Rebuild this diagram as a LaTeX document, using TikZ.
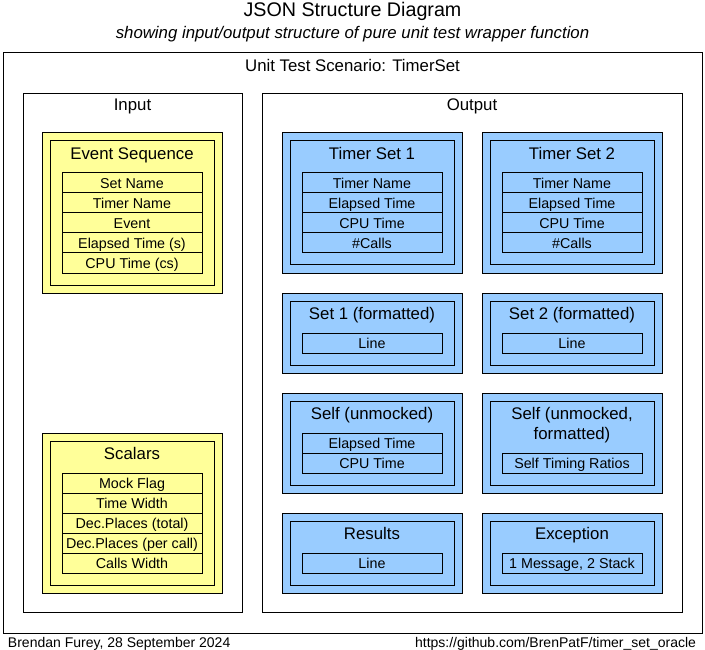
\documentclass[tikz,border=0pt]{standalone}
\usepackage{fontspec}
\setmainfont{Liberation Sans}
\definecolor{yfill}{HTML}{FFFF99}
\definecolor{bfill}{HTML}{99CCFF}
\tikzset{
  box/.style={draw=black, line width=1pt, inner sep=0pt, outer sep=0pt},
  lbl/.style={inner sep=0pt, outer sep=0pt, text height=12pt, text depth=0pt, font=\fontsize{16.8}{20}\selectfont},
  biglbl/.style={inner sep=0pt, outer sep=0pt, text height=12pt, text depth=0pt, font=\fontsize{16.8}{20}\selectfont},
  rowbox/.style={box, minimum width=140pt, minimum height=20pt, text height=10.2pt, text depth=0pt, font=\fontsize{14.3}{17}\selectfont},
  ybox/.style={box, fill=yfill},
  bbox/.style={box, fill=bfill},
  outerbox/.style={minimum width=180pt, minimum height=#1},
  innerbox/.style={box, minimum width=164pt, minimum height=#1},
  foot/.style={inner sep=0pt, outer sep=0pt, text height=10pt, text depth=0pt, font=\fontsize{14}{17}\selectfont},
}
\begin{document}
\begin{tikzpicture}[x=1pt, y=-1pt]
\useasboundingbox (0,0) rectangle (705,650);
% titles
\node[inner sep=0pt, text height=14pt, text depth=0pt, font=\fontsize{19.7}{23}\selectfont] (title) at (352.5,10) {JSON Structure Diagram};
\node[biglbl, font=\fontsize{16.8}{20}\selectfont\itshape] (subtitle) at (352.5,33) {showing input/output structure of pure unit test wrapper function};
% outer frames
\node[box, minimum width=699pt, minimum height=580pt] (scen) at (352.5,343) {};
\node[biglbl] (scenlbl) at (352.5,66) {Unit Test Scenario: TimerSet};
\node[box, minimum width=219pt, minimum height=518pt] (input) at (132.5,353) {};
\node[biglbl] (inputlbl) at (132.5,105) {Input};
\node[box, minimum width=420pt, minimum height=518pt] (output) at (472,353) {};
\node[biglbl] (outputlbl) at (472,105) {Output};
% Event Sequence
\node[ybox, outerbox=160pt] (evo) at (132,213) {};
\node[ybox, innerbox=144pt] (evi) at (132,213) {};
\node[lbl] (evt) at (132,153.5) {Event Sequence};
\node[rowbox] (ev1) at (132,183) {Set Name};
\node[rowbox] (ev2) at (132,203) {Timer Name};
\node[rowbox] (ev3) at (132,223) {Event};
\node[rowbox] (ev4) at (132,243) {Elapsed Time (s)};
\node[rowbox] (ev5) at (132,263) {CPU Time (cs)};
% Scalars
\node[ybox, outerbox=160pt] (sco) at (132,513) {};
\node[ybox, innerbox=144pt] (sci) at (132,513) {};
\node[lbl] (sct) at (132,453.5) {Scalars};
\node[rowbox] (sc1) at (132,483) {Mock Flag};
\node[rowbox] (sc2) at (132,503) {Time Width};
\node[rowbox] (sc3) at (132,523) {Dec.Places (total)};
\node[rowbox] (sc4) at (132,543) {Dec.Places (per call)};
\node[rowbox] (sc5) at (132,563) {Calls Width};
% Timer Set 1
\node[bbox, outerbox=140pt] (t1o) at (372,203) {};
\node[bbox, innerbox=124pt] (t1i) at (372,203) {};
\node[lbl] (t1t) at (372,153.5) {Timer Set 1};
\node[rowbox] (t1a) at (372,183) {Timer Name};
\node[rowbox] (t1b) at (372,203) {Elapsed Time};
\node[rowbox] (t1c) at (372,223) {CPU Time};
\node[rowbox] (t1d) at (372,243) {\#Calls};
% Timer Set 2
\node[bbox, outerbox=140pt] (t2o) at (572,203) {};
\node[bbox, innerbox=124pt] (t2i) at (572,203) {};
\node[lbl] (t2t) at (572,153.5) {Timer Set 2};
\node[rowbox] (t2a) at (572,183) {Timer Name};
\node[rowbox] (t2b) at (572,203) {Elapsed Time};
\node[rowbox] (t2c) at (572,223) {CPU Time};
\node[rowbox] (t2d) at (572,243) {\#Calls};
% Set 1 formatted
\node[bbox, outerbox=80pt] (f1o) at (372,333) {};
\node[bbox, innerbox=64pt] (f1i) at (372,333) {};
\node[lbl] (f1t) at (372,313.5) {Set 1 (formatted)};
\node[rowbox] (f1a) at (372,343) {Line};
% Set 2 formatted
\node[bbox, outerbox=80pt] (f2o) at (572,333) {};
\node[bbox, innerbox=64pt] (f2i) at (572,333) {};
\node[lbl] (f2t) at (572,313.5) {Set 2 (formatted)};
\node[rowbox] (f2a) at (572,343) {Line};
% Self (unmocked)
\node[bbox, outerbox=100pt] (s1o) at (372,443) {};
\node[bbox, innerbox=84pt] (s1i) at (372,443) {};
\node[lbl] (s1t) at (372,413.5) {Self (unmocked)};
\node[rowbox] (s1a) at (372,443) {Elapsed Time};
\node[rowbox] (s1b) at (372,463) {CPU Time};
% Self (unmocked, formatted)
\node[bbox, outerbox=100pt] (s2o) at (572,443) {};
\node[bbox, innerbox=84pt] (s2i) at (572,443) {};
\node[lbl] (s2t) at (572,413.5) {Self (unmocked,};
\node[lbl] (s2u) at (572,433.5) {formatted)};
\node[rowbox] (s2a) at (572,463) {Self Timing Ratios};
% Results
\node[bbox, outerbox=80pt] (ro) at (372,553) {};
\node[bbox, innerbox=64pt] (ri) at (372,553) {};
\node[lbl] (rt) at (372,533.5) {Results};
\node[rowbox] (ra) at (372,563) {Line};
% Exception
\node[bbox, outerbox=80pt] (xo) at (572,553) {};
\node[bbox, innerbox=64pt] (xi) at (572,553) {};
\node[lbl] (xt) at (572,533.5) {Exception};
\node[rowbox] (xa) at (572,563) {1 Message, 2 Stack};
% footer
\node[foot, anchor=west] (author) at (8,642) {Brendan Furey, 28 September 2024};
\node[foot, anchor=east] (url) at (696,642) {https://github.com/BrenPatF/timer\_set\_oracle};
\end{tikzpicture}
\end{document}
